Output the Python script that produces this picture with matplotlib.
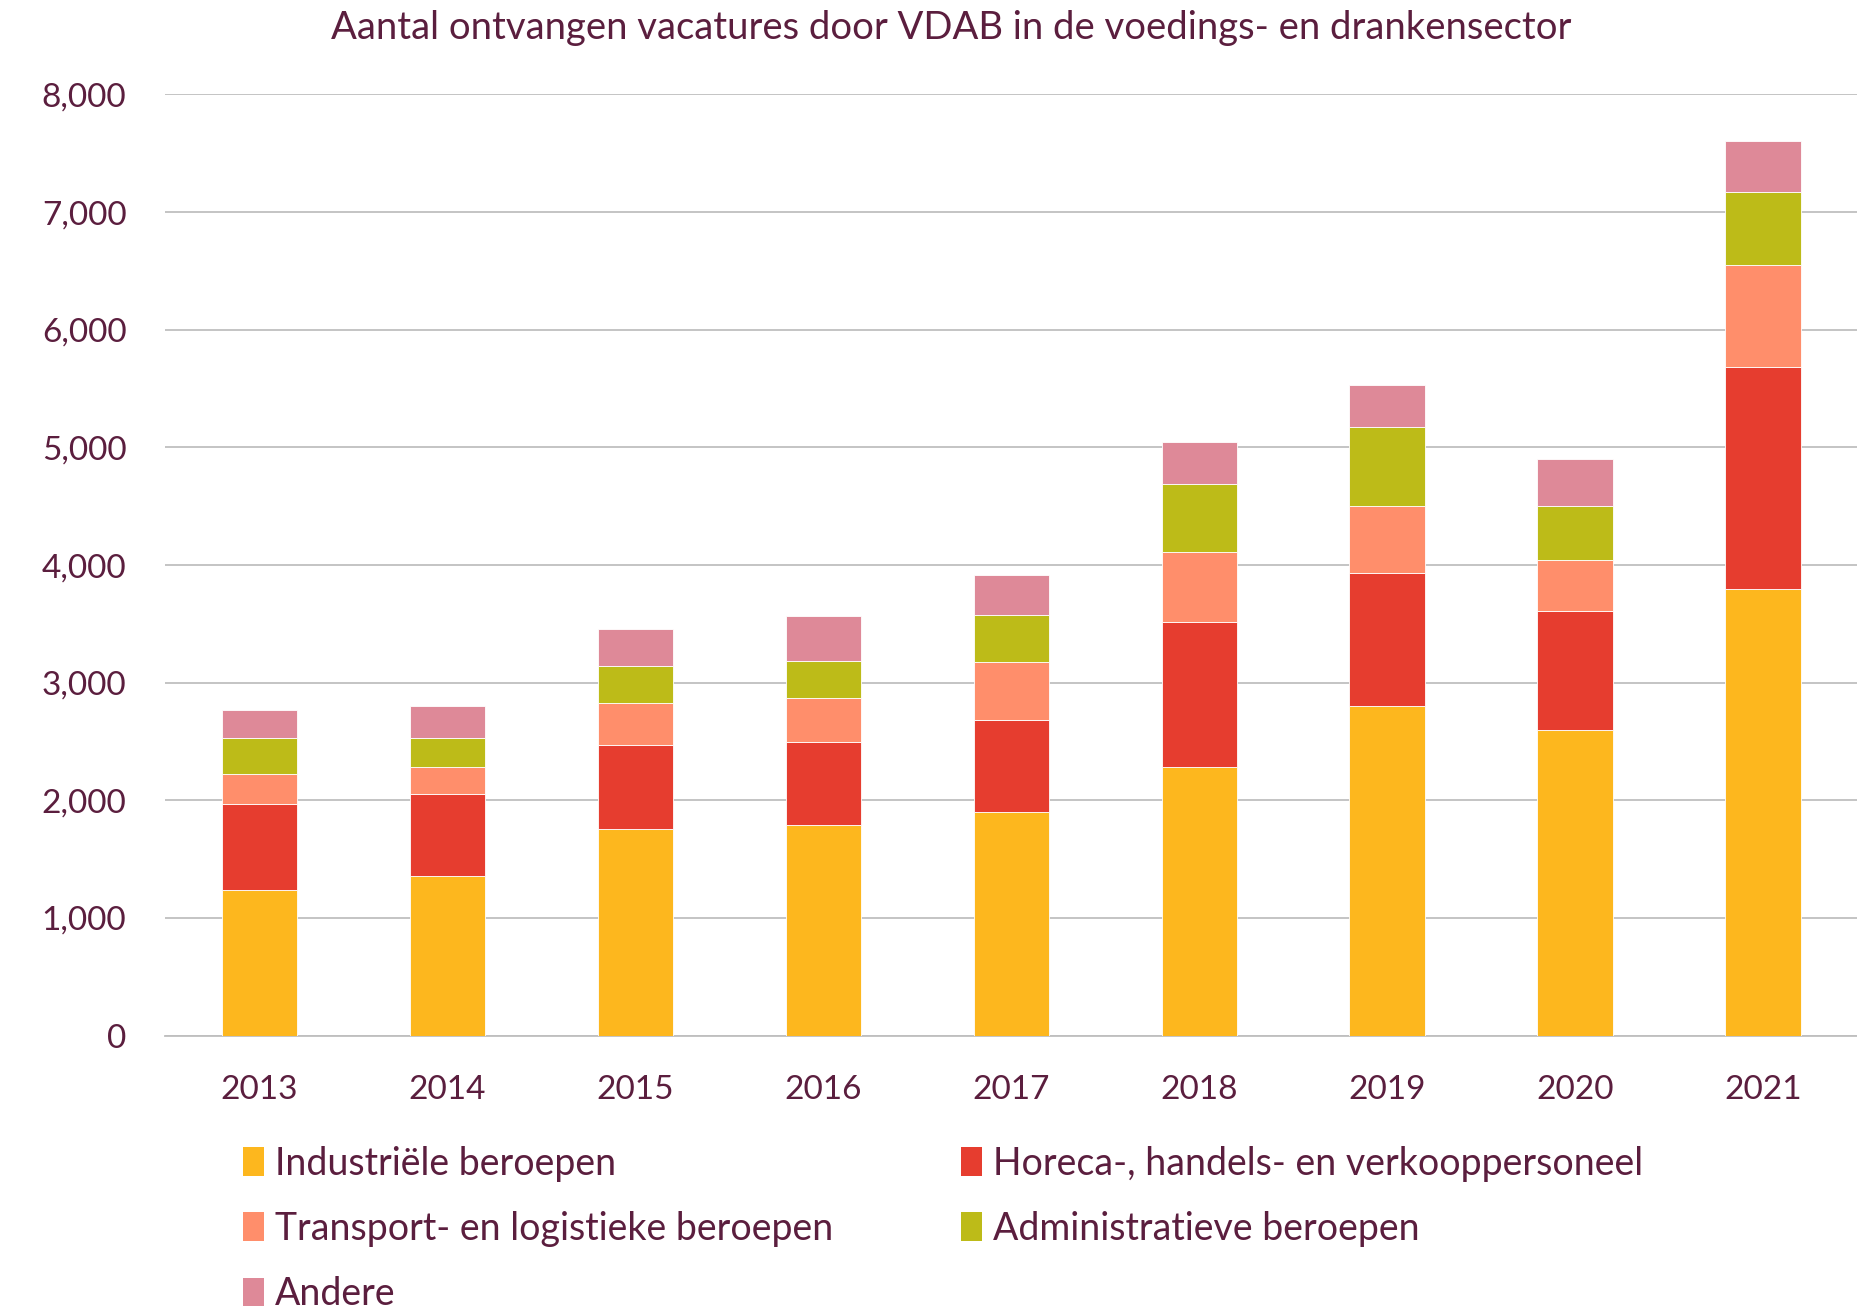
import numpy as np
import matplotlib
matplotlib.use("Agg")
import matplotlib.pyplot as plt
from matplotlib.patches import Patch
from matplotlib.ticker import FuncFormatter

years = ["2013", "2014", "2015", "2016", "2017", "2018", "2019", "2020", "2021"]
industrie = [1240, 1360, 1753, 1793, 1904, 2287, 2801, 2600, 3798]
horeca = [725, 695, 716, 706, 776, 1229, 1128, 1007, 1885]
transport = [262, 232, 362, 373, 494, 595, 575, 433, 866]
administratie = [302, 242, 313, 312, 403, 574, 665, 464, 625]
andere = [242, 272, 312, 383, 342, 363, 362, 393, 433]

labels = ["Industriële beroepen", "Horeca-, handels- en verkooppersoneel",
          "Transport- en logistieke beroepen", "Administratieve beroepen", "Andere"]
colors = ["#FDB71E", "#E63D2F", "#FF8E6B", "#BDBB18", "#DE8998"]
series = [industrie, horeca, transport, administratie, andere]

txt = "#5B1E3E"
plt.rcParams["font.family"] = ["Lato", "DejaVu Sans"]

fig = plt.figure(figsize=(18.57, 13.11), dpi=100)
ax = fig.add_axes([0.089, 0.21, 0.911, 0.718])

x = np.arange(len(years))
bottom = np.zeros(len(years))
for vals, c in zip(series, colors):
    ax.bar(x, vals, width=0.4, bottom=bottom, color=c, edgecolor="white",
           linewidth=0.6, zorder=3)
    bottom += np.array(vals)

ax.set_xlim(-0.5, 8.5)
ax.set_ylim(0, 8000)
ax.set_yticks(np.arange(0, 8001, 1000))
ax.yaxis.set_major_formatter(FuncFormatter(lambda v, p: f"{int(v):,}"))
ax.set_xticks(x)
ax.set_xticklabels(years)
ax.grid(axis="y", color="#BFBFBF", linewidth=1.3, zorder=0)
for s in ["top", "right", "left"]:
    ax.spines[s].set_visible(False)
ax.spines["bottom"].set_color("#BFBFBF")
ax.spines["bottom"].set_linewidth(1.3)
ax.tick_params(axis="both", length=0, labelsize=24, labelcolor=txt)
ax.tick_params(axis="x", pad=28)
ax.tick_params(axis="y", pad=28)

fig.text(0.512, 0.979, "Aantal ontvangen vacatures door VDAB in de voedings- en drankensector",
         ha="center", va="center", fontsize=27.5, color=txt)

# legend filled row by row like the original
handles = [Patch(facecolor=c, edgecolor="none") for c in colors]
order = [0, 2, 4, 1, 3]
leg = fig.legend([handles[i] for i in order], [labels[i] for i in order],
                 loc="upper left", bbox_to_anchor=(0.121, 0.1405),
                 ncol=2, frameon=False, fontsize=27, handlelength=0.55,
                 handleheight=0.8, handletextpad=0.3, columnspacing=3.4,
                 labelspacing=0.78, borderpad=0)
for t in leg.get_texts():
    t.set_color(txt)

fig.savefig("out.png", dpi=100)
